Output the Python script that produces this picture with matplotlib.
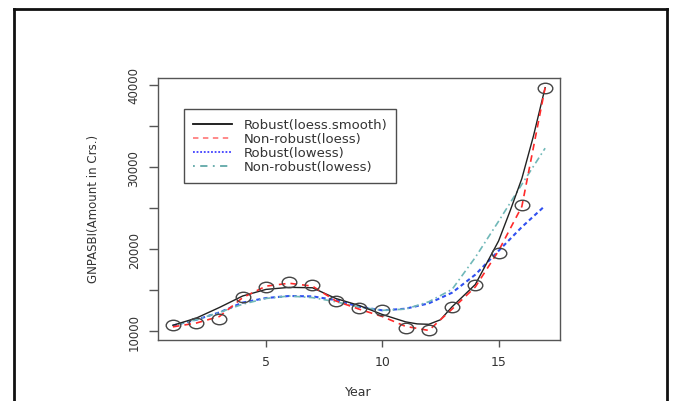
import matplotlib
matplotlib.use("Agg")
import matplotlib.pyplot as plt
import numpy as np
from matplotlib.path import Path
from matplotlib.lines import Line2D

plt.rcParams['font.family'] = ['DejaVu Sans']

# ---- data ----
year = [1, 2, 3, 4, 5, 6, 7, 8, 9, 10, 11, 12, 13, 14, 15, 16, 17]
gnpasbi = [10730, 11060, 11550, 14200, 15430, 15950, 15620, 13670, 12860,
           12570, 10450, 10120, 12980, 15620, 19580, 25400, 39670]

robust_loess_x = [1, 2, 3, 4, 5, 6, 7, 8, 9, 10, 11, 11.5, 12, 12.5, 13, 14, 15, 15.5, 16, 16.5, 17]
robust_loess_y = [10730, 11600, 12900, 14300, 15100, 15350, 15300, 14000, 13150,
                  12050, 11150, 10900, 10850, 11400, 12980, 15700, 21000, 24700, 28600, 33800, 39670]

nonrobust_loess_y = [10540, 11000, 11800, 14100, 15500, 15850, 15500, 13700, 12700,
                     11800, 10600, 10100, 12700, 15400, 19800, 25200, 39670]

robust_lowess_y = [10700, 11400, 12300, 13500, 14050, 14300, 14250, 13800, 13000,
                   12550, 12750, 13400, 14700, 16900, 19800, 22700, 25300]

nonrobust_lowess_y = [10700, 11400, 12300, 13300, 14000, 14300, 14100, 13600, 12950,
                      12550, 12700, 13600, 15100, 19000, 23400, 27900, 32300]

labels = ["Robust(loess.smooth)", "Non-robust(loess)", "Robust(lowess)", "Non-robust(lowess)"]

W, H = 675, 402
fig = plt.figure(figsize=(W / 100, H / 100), dpi=100)
fig.patch.set_facecolor('white')

# axes box in pixels: left 158, right 560, top 79, bottom 341
L, R, T, B = 158, 560, 79, 341
ax = fig.add_axes([L / W, 1 - B / H, (R - L) / W, (B - T) / H])

axis_col = '#555555'
text_col = '#333333'

# ellipse marker (picture is horizontally stretched)
uc = Path.unit_circle()
ell = Path(uc.vertices * np.array([1.0, 0.72]), uc.codes)

ax.plot(year, gnpasbi, linestyle='none', marker=ell, markersize=10.5,
        markerfacecolor='none', markeredgecolor='#444444', markeredgewidth=1.0, zorder=5)

l1, = ax.plot(robust_loess_x, robust_loess_y, color='#222222', lw=1.0, zorder=4)
l2, = ax.plot(year, nonrobust_loess_y, color='#ff2a2a', lw=1.2,
              linestyle=(0, (4, 3)), zorder=4)
l3, = ax.plot(year, robust_lowess_y, color='#3050f0', lw=1.5,
              linestyle=(0, (2, 1.5)), zorder=3)
l4, = ax.plot(year, nonrobust_lowess_y, color='#70b8b8', lw=1.2,
              linestyle=(0, (1, 2, 4, 2)), zorder=3)

ax.set_xlim(0.36, 17.64)
ax.set_ylim(8938, 40852)

ax.set_xticks([5, 10, 15])
ax.set_xticklabels(['5', '10', '15'])
ax.set_yticks([10000, 15000, 20000, 25000, 30000, 35000, 40000])
ax.set_yticklabels(['10000', '', '20000', '', '30000', '', '40000'])

for s in ax.spines.values():
    s.set_color(axis_col)
    s.set_linewidth(1.0)

ax.tick_params(axis='x', length=5, width=1, color=axis_col, labelcolor=text_col,
               labelsize=9, pad=6)
ax.tick_params(axis='y', length=6.5, width=1, color=axis_col, labelcolor=text_col,
               labelsize=8.5, pad=6)
for lab in ax.get_yticklabels():
    lab.set_rotation(90)
    lab.set_va('center')

fig.text(358 / W, 1 - 393 / H, 'Year', ha='center', va='center',
         fontsize=9, color=text_col)
fig.text(93 / W, 1 - 209 / H, 'GNPASBI(Amount in Crs.)', ha='center', va='center',
         rotation=90, fontsize=8.5, color=text_col)

h1 = Line2D([], [], color='#111111', lw=1.3)
h2 = Line2D([], [], color='#ff8080', lw=1.3, linestyle=(0, (3, 2.5)))
h3 = Line2D([], [], color='#4040ff', lw=1.3, linestyle=(0, (1, 1)))
h4 = Line2D([], [], color='#60a8a8', lw=1.3, linestyle=(0, (1, 3, 4, 3)))
leg = ax.legend([h1, h2, h3, h4], labels, loc='upper left',
                bbox_to_anchor=(184 / W, 1 - 110 / H), bbox_transform=fig.transFigure,
                fontsize=9.5, frameon=True, fancybox=False, edgecolor='#222222',
                handlelength=2.9, handletextpad=0.9, labelspacing=0.08,
                borderpad=0.7, borderaxespad=0)
leg.get_frame().set_linewidth(1.0)
for t in leg.get_texts():
    t.set_color('#333333')

# outer frame around the figure
fc = '#111111'
fig.add_artist(Line2D([14 / W, 14 / W], [0, 1 - 10 / H], transform=fig.transFigure,
                      color=fc, lw=2))
fig.add_artist(Line2D([667 / W, 667 / W], [0, 1 - 10 / H], transform=fig.transFigure,
                      color=fc, lw=2))
fig.add_artist(Line2D([14 / W, 667 / W], [1 - 10 / H, 1 - 10 / H], transform=fig.transFigure,
                      color=fc, lw=2))

fig.savefig('out.png', dpi=100, facecolor='white')
